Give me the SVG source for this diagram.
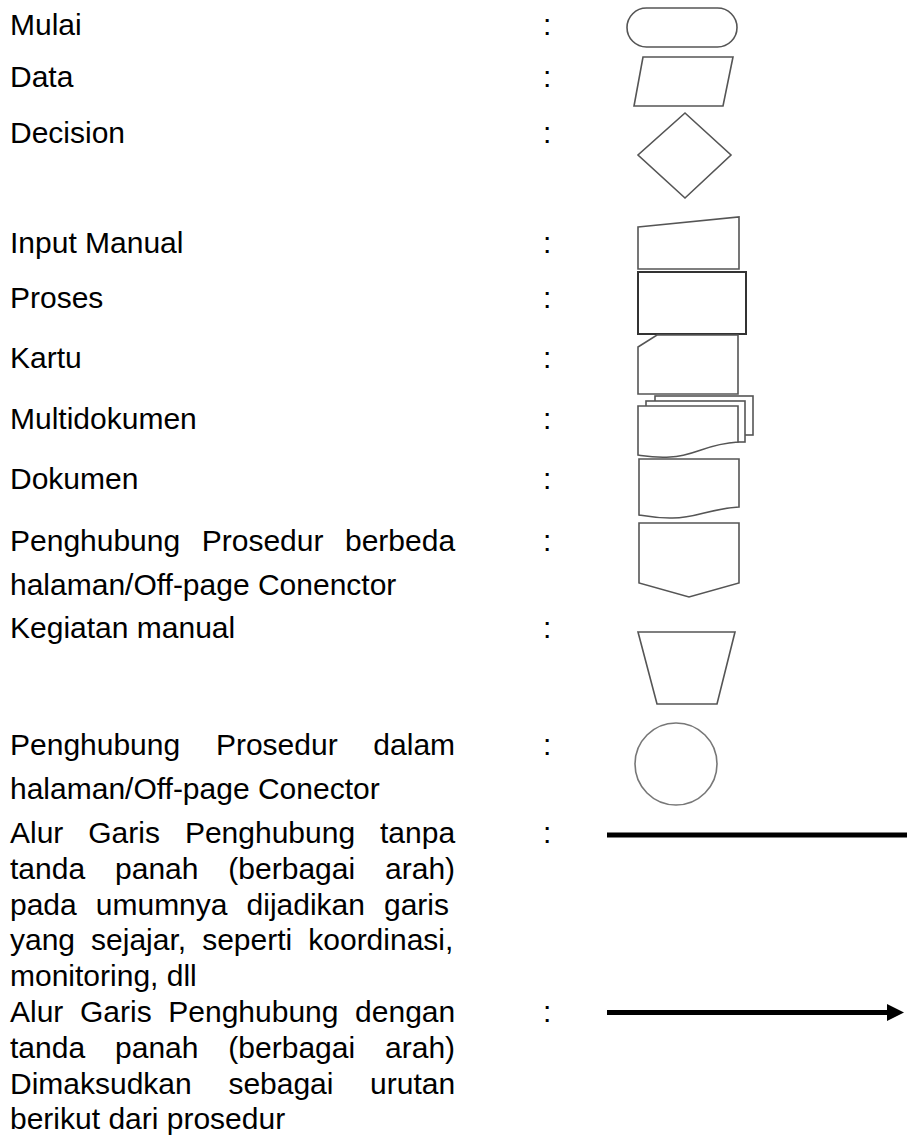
<svg xmlns="http://www.w3.org/2000/svg" width="907" height="1138" viewBox="0 0 907 1138">
<style>
text{font-family:"Liberation Sans",Arial,sans-serif;font-size:30px;fill:#000}
.s{fill:#fff;stroke:#555;stroke-width:1.6;stroke-linejoin:miter}
.b{stroke:#000;stroke-width:5;fill:none}
</style>
<defs>
<marker id="ah" markerWidth="4" markerHeight="4" refX="0" refY="2" orient="auto" markerUnits="strokeWidth" viewBox="0 0 4 4">
<path d="M0,0.3 L3.4,2 L0,3.7 Z" fill="#000"/>
</marker>
</defs>
<rect width="907" height="1138" fill="#fff"/>

<g id="labels">
<text x="10" y="35">Mulai</text>
<text x="10" y="87">Data</text>
<text x="10" y="143">Decision</text>
<text x="10" y="253">Input Manual</text>
<text x="10" y="308">Proses</text>
<text x="10" y="368">Kartu</text>
<text x="10" y="429">Multidokumen</text>
<text x="10" y="489">Dokumen</text>
<text x="10" y="551" word-spacing="13.2">Penghubung Prosedur berbeda</text>
<text x="10" y="595">halaman/Off-page Conenctor</text>
<text x="10" y="638">Kegiatan manual</text>
<text x="10" y="755" word-spacing="27.4">Penghubung Prosedur dalam</text>
<text x="10" y="799">halaman/Off-page Conector</text>
<text x="10" y="843" word-spacing="16.6">Alur Garis Penghubung tanpa</text>
<text x="10" y="879" word-spacing="21.6">tanda panah (berbagai arah)</text>
<text x="10" y="915" word-spacing="10.7">pada umumnya dijadikan garis</text>
<text x="10" y="950" word-spacing="7.7">yang sejajar, seperti koordinasi,</text>
<text x="10" y="986">monitoring, dll</text>
<text x="10" y="1022" word-spacing="8.3">Alur Garis Penghubung dengan</text>
<text x="10" y="1058" word-spacing="21.6">tanda panah (berbagai arah)</text>
<text x="10" y="1094" word-spacing="28.3">Dimaksudkan sebagai urutan</text>
<text x="10" y="1129">berikut dari prosedur</text>
</g>

<g id="colons">
<text x="543" y="35">:</text>
<text x="543" y="87">:</text>
<text x="543" y="143">:</text>
<text x="543" y="253">:</text>
<text x="543" y="308">:</text>
<text x="543" y="368">:</text>
<text x="543" y="429">:</text>
<text x="543" y="489">:</text>
<text x="543" y="551">:</text>
<text x="543" y="638">:</text>
<text x="543" y="755">:</text>
<text x="543" y="843">:</text>
<text x="543" y="1022">:</text>
</g>

<g id="mulai"><rect class="s" x="627" y="8" width="110" height="39" rx="19.5"/></g>
<g id="data"><polygon class="s" points="643,57 733,57 723,106 634,106"/></g>
<g id="decision"><polygon class="s" points="685,113 731,155 685,198 638,155"/></g>
<g id="input-manual"><polygon class="s" points="638,227 739,217 739,269 638,269"/></g>
<g id="proses"><rect class="s" x="638" y="272" width="108" height="62" style="stroke:#333;stroke-width:2"/></g>
<g id="kartu"><polygon class="s" points="657,335 738,335 738,394 638,394 638,347"/></g>
<g id="multidokumen">
<rect class="s" x="655" y="396" width="98" height="39"/>
<rect class="s" x="646" y="401" width="99" height="41"/>
<path class="s" d="M638,406 L738,406 L738,442 C705,444 695,456 670,457 C655,458 645,456 638,455 Z"/>
</g>
<g id="dokumen"><path class="s" d="M639,459 L739,459 L739,507 C706,509 696,519 670,518 C655,518 645,516 639,515 Z"/></g>
<g id="off-page"><polygon class="s" points="639,523 739,523 739,583 689,597 639,583"/></g>
<g id="kegiatan-manual"><polygon class="s" points="638,632 735,632 717,704 657,704"/></g>
<g id="on-page"><circle class="s" cx="676" cy="764" r="41" style="stroke:#777"/></g>

<g id="connectors">
<line class="b" x1="607" y1="835" x2="907" y2="835"/>
<line class="b" x1="607" y1="1012.5" x2="887" y2="1012.5" marker-end="url(#ah)"/>
</g>
</svg>
